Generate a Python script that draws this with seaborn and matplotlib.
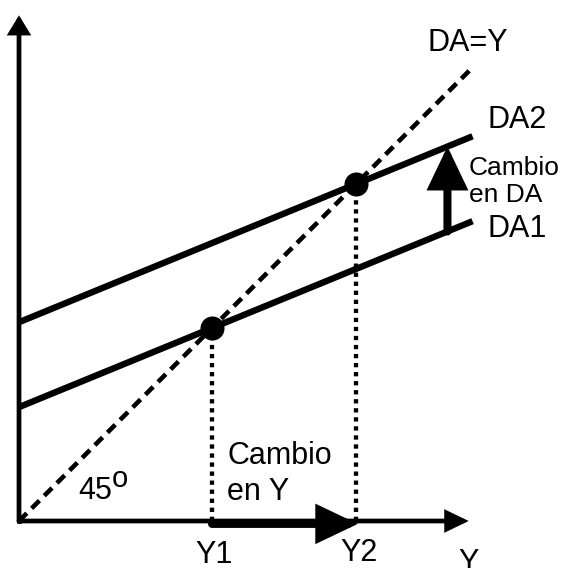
import matplotlib
matplotlib.use("Agg")
import pandas as pd
import matplotlib.pyplot as plt
import seaborn as sns

# Modelo keynesiano: DA = a + b*Y
curvas = ["DA1", "DA2"]
interceptos = [59, 103]
pendiente = 0.41
y_fin = 235            # hasta donde se dibujan las rectas
eje_x_fin = 233
eje_y_fin = 262
y_flecha_da = 222      # donde va la flecha "Cambio en DA"

# equilibrios (DA = Y)
equilibrios = [a / (1 - pendiente) for a in interceptos]
Y1, Y2 = equilibrios

filas = []
for nombre, a in zip(curvas, interceptos):
    for y in [0, y_fin]:
        filas.append({"curva": nombre, "Y": y, "DA": a + pendiente * y})
df = pd.DataFrame(filas)

sns.set_theme(style="white")
plt.rcParams["font.family"] = ["Liberation Sans", "DejaVu Sans"]

fig = plt.figure(figsize=(5.61, 5.68), dpi=100)
ax = fig.add_axes([0, 0, 1, 1])
esc = 1.93
ax.set_xlim(-19 / esc, (561 - 19) / esc)
ax.set_ylim(-(568 - 521) / esc, 521 / esc)
ax.axis("off")

# rectas DA1 y DA2
sns.lineplot(data=df, x="Y", y="DA", hue="curva", palette=["black", "black"],
             lw=4.6, legend=False, ax=ax, solid_capstyle="butt")

# recta de 45 grados
sns.lineplot(x=[0, y_fin], y=[0, y_fin], color="black", lw=3.3,
             linestyle=(0, (2.4, 1.5)), ax=ax)

# lineas punteadas hasta el eje
for yq in equilibrios:
    ax.plot([yq, yq], [0, yq], color="black", lw=3.1, linestyle=(0, (1, 1.1)))

# ejes con flecha
def flecha(ini, fin, lw, hl, hw):
    ax.annotate("", xy=fin, xytext=ini,
                arrowprops=dict(arrowstyle=f"-|>,head_length={hl},head_width={hw}",
                                lw=lw, color="black", shrinkA=0, shrinkB=0,
                                mutation_scale=1, joinstyle="miter"))

flecha((0, 0), (0, eje_y_fin), 3.4, 9.5, 5.8)
flecha((0, 0), (eje_x_fin, 0), 3.4, 12, 5.8)
ax.plot([0, 0], [0, 2], color="black", lw=3.4, solid_capstyle="projecting")

# cambio en Y
flecha((Y1, -1.5), (Y2 + 1, -1.5), 5.8, 21, 10)
# cambio en DA
flecha((y_flecha_da, interceptos[0] + pendiente * y_flecha_da),
       (y_flecha_da, interceptos[1] + pendiente * y_flecha_da), 5.8, 22, 10.5)

# puntos de equilibrio
sns.scatterplot(x=equilibrios, y=equilibrios, s=300, color="black",
                edgecolor="black", linewidth=0, zorder=5, ax=ax)

# textos
fs = 22
kw = dict(ha="left", va="baseline", color="black")
ax.text(-4.7, 274.5, "(Demanda Deseada)", fontsize=24, **kw)
ax.text(211.9, 243.5, "DA=Y", fontsize=fs, **kw)
ax.text(243, 203.6, "DA2", fontsize=fs, **kw)
ax.text(242.5, 147.2, "DA1", fontsize=fs, **kw)
ax.text(233.2, 179.3, "Cambio", fontsize=19, **kw)
ax.text(233.2, 165.3, "en DA", fontsize=19, **kw)
ax.text(Y1 + 7.8, 29.5, "Cambio", fontsize=fs, **kw)
ax.text(Y1 + 7.8, 10.9, "en Y", fontsize=fs, **kw)
ax.text(30.6, 11.4, "45", fontsize=fs, **kw)
ax.text(48.2, 17.6, "o", fontsize=21, **kw)
ax.text(Y1 - 8.8, -21.8, "Y1", fontsize=fs, **kw)
ax.text(Y2 - 8.3, -20.5, "Y2", fontsize=fs, **kw)
ax.text(227.5, -25.9, "Y", fontsize=fs, **kw)

fig.savefig("out.png", dpi=100)
